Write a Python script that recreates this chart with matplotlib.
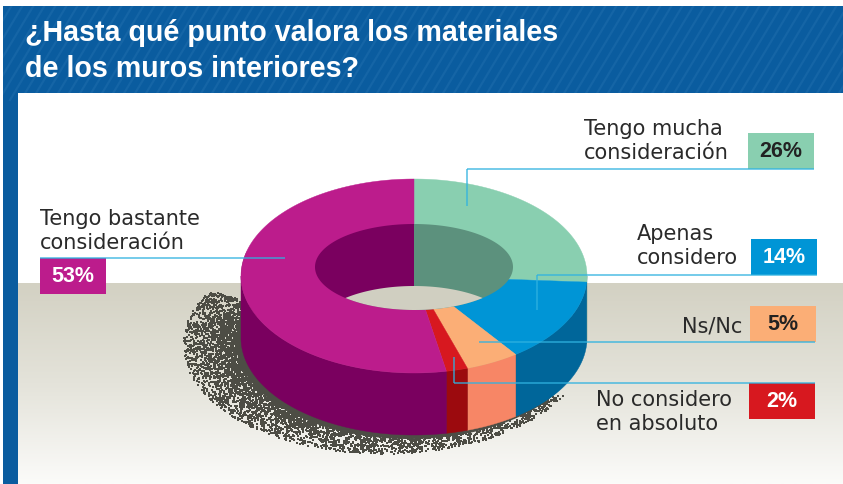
import numpy as np
import matplotlib
matplotlib.use("Agg")
import matplotlib.pyplot as plt
from matplotlib.patches import Rectangle, Polygon

title_lines = ["¿Hasta qué punto valora los materiales", "de los muros interiores?"]
categories = ["Tengo mucha\nconsideración", "Apenas\nconsidero", "Ns/Nc",
              "No considero\nen absoluto", "Tengo bastante\nconsideración"]
values = [26, 14, 5, 2, 53]
top_colors = ["#89cfb0", "#0095d6", "#fbae76", "#d7181f", "#bc1c8c"]
side_colors = ["#5c917d", "#00669a", "#f78666", "#9c0a0e", "#7a005f"]
text_colors = ["#222222", "white", "#222222", "white", "white"]

plt.rcParams["font.family"] = ["Liberation Sans", "DejaVu Sans"]

fig = plt.figure(figsize=(8.43, 4.84), dpi=100)
ax = fig.add_axes([0, 0, 1, 1])

# marco azul con rayas diagonales
ax.add_patch(Rectangle((3, 6), 840, 478, fc="#0a5c9f", ec="none", zorder=1))
for x0 in np.arange(-100, 950, 11):
    ax.plot([x0, x0 + 60], [100, 0], color="#1565a6", lw=1.6, zorder=2)
ax.add_patch(Rectangle((0, 0), 3, 484, fc="white", ec="none", zorder=3))
ax.add_patch(Rectangle((0, 0), 843, 6, fc="white", ec="none", zorder=3))
ax.add_patch(Rectangle((18, 93), 825, 391, fc="white", ec="none", zorder=3))

# suelo con degradado
grad = np.linspace(0, 1, 200).reshape(-1, 1)
cmap = matplotlib.colors.LinearSegmentedColormap.from_list("suelo", ["#d3d1c3", "#e4e3da", "#fbfbf9"])
ax.imshow(grad, extent=(18, 843, 484, 283), cmap=cmap, aspect="auto", zorder=4)

ax.set_xlim(0, 843)
ax.set_ylim(484, 0)
ax.axis("off")

for i, line in enumerate(title_lines):
    ax.text(25, 33 + i * 36, line, color="white", fontsize=20.6, fontweight="bold",
            va="center", ha="left", zorder=5)

# geometria del donut
cx, cy, rx, ry = 414, 276, 173, 97
icy, irx, iry = 267, 99, 43
depth = 62

def outer(t, dy=0):
    return np.c_[cx + rx * np.sin(t), cy - ry * np.cos(t) + dy]

def inner(t, dy=0):
    return np.c_[cx + irx * np.sin(t), icy - iry * np.cos(t) + dy]

# sombra: textura punteada, no son datos
rng = np.random.RandomState(3)
n = 11000
th = rng.uniform(np.radians(118), np.radians(300), n)
fr = 0.70 + 0.31 * rng.uniform(0, 1, n) ** 2.4
sx = 385 + 200 * fr * np.sin(th)
sy = 345 - 108 * fr * np.cos(th)
keep = sy > 292
ax.scatter(sx[keep], sy[keep], s=1.0, marker="s", color="#4d4d45", linewidths=0, zorder=6)
t = np.linspace(np.radians(115), np.radians(285), 100)
ax.add_patch(Polygon(np.r_[outer(t, depth + 4) + [-5, 0], outer(t[::-1], 0)], fc="#4d4d45", ec="none", zorder=6))

edges = np.radians(np.cumsum([0] + values) * 3.6)

# paredes exteriores
for i in range(len(values)):
    a, b = max(edges[i], np.pi / 2), min(edges[i + 1], 3 * np.pi / 2)
    if b <= a:
        continue
    t = np.linspace(a, b, 100)
    ax.add_patch(Polygon(np.r_[outer(t), outer(t[::-1], depth)], fc=side_colors[i],
                         ec=side_colors[i], lw=0.3, zorder=7))

# cara superior: cuñas desde el centro, el agujero va encima
for i in range(len(values)):
    t = np.linspace(edges[i], edges[i + 1], 150)
    ax.add_patch(Polygon(np.r_[[[cx, cy]], outer(t)], fc=top_colors[i],
                         ec=top_colors[i], lw=0.3, zorder=8))

# interior del agujero
t = np.linspace(0, np.pi, 100)
ax.add_patch(Polygon(inner(t), fc=side_colors[0], ec="none", zorder=9))
ax.add_patch(Polygon(inner(t + np.pi), fc=side_colors[4], ec="none", zorder=9))
t = np.linspace(0, 2 * np.pi, 200)
hole = Polygon(inner(t), fc="none", ec="none", zorder=9)
ax.add_patch(hole)
floor = Polygon(inner(t, depth), fc="#d0cfc1", ec="none", zorder=10)
ax.add_patch(floor)
floor.set_clip_path(hole)

# etiquetas, cajas y lineas guia
label_pos = [(584, 141), (637, 246), (682, 326), (596, 412), (40, 231)]
box_pos = [(748, 133), (751, 239), (750, 306), (749, 383), (40, 258)]
guide_y = [169, 275, 341.5, 383, 258]
guide_x = [(467, 814), (537, 817), (479, 815), (454, 815), (40, 285)]
guide_end = [206, 310, None, 357, None]
box_w, box_h = 66, 36

for i in range(len(values)):
    bx, by = box_pos[i]
    ax.add_patch(Rectangle((bx, by), box_w, box_h, fc=top_colors[i], ec="none", zorder=11))
    ax.text(bx + box_w / 2, by + box_h / 2 + 0.5, f"{values[i]}%", color=text_colors[i], fontsize=15.5,
            fontweight="bold", ha="center", va="center", zorder=13)
    ax.text(label_pos[i][0], label_pos[i][1], categories[i], color="#2a2a2a", fontsize=15,
            family="DejaVu Sans", ha="left", va="center", linespacing=1.2, zorder=13)
    ax.plot(guide_x[i], [guide_y[i]] * 2, color="#2fb2e0", lw=1.1, alpha=0.85, zorder=12,
            solid_capstyle="butt")
    if guide_end[i] is not None:
        ax.plot([guide_x[i][0]] * 2, [guide_y[i], guide_end[i]], color="#2fb2e0", lw=1.1,
                alpha=0.85, zorder=12, solid_capstyle="butt")

fig.savefig("out.png", dpi=100)
